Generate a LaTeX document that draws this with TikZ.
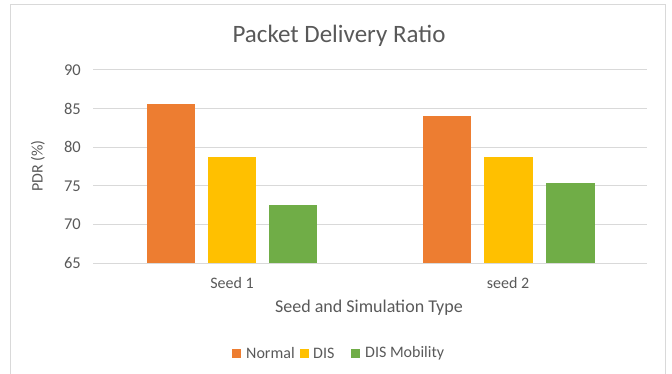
\documentclass[tikz,border=0pt]{standalone}
\usepackage{fontspec}
\setmainfont{Carlito}
\definecolor{txtgray}{HTML}{595959}
\definecolor{gridgray}{HTML}{D9D9D9}
\definecolor{cnormal}{HTML}{ED7D31}
\definecolor{cdis}{HTML}{FFC000}
\definecolor{cmob}{HTML}{70AD47}
\begin{document}
\begin{tikzpicture}[x=1pt,y=-1pt,
  lbl/.style={text=txtgray,inner sep=0pt,font=\fontsize{16}{19}\selectfont},
  gridline/.style={draw=gridgray,line width=1pt}]
\useasboundingbox (0,0) rectangle (672,374);
% chart frame
\draw[gridgray,line width=1pt] (10,400) -- (10,5) -- (665,5) -- (665,400);
% title
\node[text=txtgray,inner sep=0pt,font=\fontsize{25}{30}\selectfont] (title) at (339,36) {Packet Delivery Ratio};
% horizontal grid and tick labels (65..90, 7.72 px per unit)
\foreach \v in {65,70,...,90}{
  \pgfmathsetmacro{\yy}{263-(\v-65)*7.72}
  \draw[gridline] (93,\yy) -- (647,\yy);
  \node[lbl,anchor=east,font=\fontsize{16.5}{19}\selectfont] at (81,\yy) {\v};
}
% axis title
\node[lbl,rotate=90] (ytitle) at (38,166) {PDR (\%)};
% bars: seed 1
\fill[cnormal] (147,263) rectangle (195,104);
\fill[cdis]    (208,263) rectangle (256,157);
\fill[cmob]    (269,263) rectangle (317,205);
% bars: seed 2
\fill[cnormal] (423,263) rectangle (471,116);
\fill[cdis]    (484,263) rectangle (533,157);
\fill[cmob]    (546,263) rectangle (595,183);
% category labels
\node[lbl] (s1) at (232,283) {Seed 1};
\node[lbl] (s2) at (508,283) {seed 2};
\node[lbl,font=\fontsize{18}{21}\selectfont] (xtitle) at (369,308) {Seed and Simulation Type};
% legend
\fill[cnormal] (232,349) rectangle (241,358);
\node[lbl,anchor=west] (l1) at (246,353.5) {Normal};
\fill[cdis] (300,349) rectangle (309,358);
\node[lbl,anchor=west] (l2) at (313,353.5) {DIS};
\fill[cmob] (351,349) rectangle (360,358);
\node[lbl,anchor=west] (l3) at (365,353.5) {DIS Mobility};
\end{tikzpicture}
\end{document}
